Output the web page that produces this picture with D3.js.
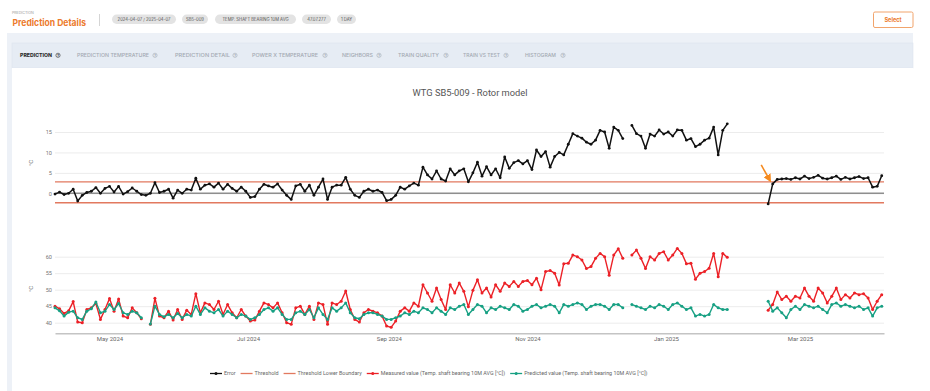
<!DOCTYPE html>
<html>
<head>
<meta charset="utf-8">
<script src="https://cdn.jsdelivr.net/npm/d3@7"></script>
<style>
  html, body { margin: 0; padding: 0; background: #fff; }
  svg { display: block; font-family: Roboto, "Open Sans", sans-serif; }
</style>
</head>
<body>
<script>
// --- data (one point every 2 days from startDate, null = no data) ---
const startDate = new Date(2024, 3, 7);
const endDate = new Date(2025, 3, 7);
const stepDays = 2;

const errorValues = [
  -0.2,0.3,-0.3,0.0,1.0,-1.9,-0.5,0.2,0.5,1.4,
  0.0,1.2,1.7,0.3,1.7,-0.2,0.4,1.3,0.5,-0.3,
  -0.5,0.0,2.6,0.2,0.5,1.0,-1.2,0.8,0.0,1.0,
  0.8,3.7,1.0,2.0,2.3,1.5,2.5,1.0,2.2,1.2,
  0.5,1.5,0.5,-1.0,-0.8,1.0,2.2,1.8,1.5,2.3,
  0.8,-0.5,-1.5,1.8,2.2,0.5,2.0,-0.5,1.5,3.5,
  -1.5,1.5,2.0,2.0,3.9,1.0,-0.5,-1.0,0.5,1.0,
  0.5,0.8,0.2,-1.8,-1.5,-0.5,1.5,1.0,1.8,2.5,
  2.0,6.4,4.5,3.5,5.5,3.5,3.0,6.0,4.5,5.5,
  6.0,2.8,5.0,7.6,4.2,6.5,4.5,6.0,3.8,8.9,
  6.1,7.5,8.0,7.2,8.0,5.8,10.6,9.0,10.2,6.4,
  9.0,10.0,9.4,12.0,14.6,14.0,13.5,12.5,12.0,13.0,
  15.4,15.0,11.0,16.2,15.4,13.4,null,16.6,14.6,14.0,
  11.0,14.5,14.0,15.5,14.5,15.0,14.0,15.5,15.4,13.0,
  13.4,11.4,12.0,13.0,13.5,16.2,9.4,15.4,17.0,null,
  null,null,null,null,null,null,null,-2.6,2.3,3.4,
  3.5,3.6,3.4,3.8,3.5,4.2,3.6,3.9,4.4,3.7,
  3.5,3.8,4.2,3.4,3.9,3.5,3.8,4.1,3.6,3.8,
  1.5,1.7,4.3
];

const measuredValues = [
  45.0,44.2,42.8,43.6,46.4,40.2,40.0,44.0,44.5,45.8,
  41.0,44.0,47.3,43.5,47.2,42.0,41.5,44.5,43.0,41.2,
  null,39.5,47.4,42.0,41.5,43.5,40.8,44.0,41.0,43.8,
  42.5,48.8,43.0,46.0,45.5,44.0,46.5,42.5,45.5,43.0,
  41.5,44.0,42.0,40.5,40.8,43.5,46.0,45.5,44.5,46.0,
  43.0,40.0,39.5,44.5,45.0,42.5,45.0,41.0,46.0,45.5,
  39.5,46.0,45.5,46.5,49.6,44.0,41.0,40.2,43.0,44.0,
  43.5,43.0,42.0,39.0,38.6,40.5,43.5,44.5,43.5,46.0,
  45.0,51.5,49.0,46.5,50.5,47.0,44.0,51.5,49.0,52.0,
  49.5,44.8,49.8,53.0,49.0,50.5,47.8,51.5,49.5,52.0,
  51.0,52.5,51.0,52.5,52.8,51.5,53.5,50.0,55.5,55.8,
  55.0,51.4,57.9,58.0,60.5,60.0,59.0,56.4,57.0,59.5,
  61.0,60.0,54.4,60.5,62.4,59.5,null,60.5,62.0,59.5,
  56.4,60.0,59.0,61.0,61.5,59.0,60.5,62.5,61.0,57.9,
  58.0,53.2,55.0,55.5,56.5,61.0,53.9,61.0,59.8,null,
  null,null,null,null,null,null,null,43.8,45.5,49.3,
  47.0,48.0,46.5,48.0,47.5,50.5,48.0,46.5,50.5,49.0,
  46.0,48.0,50.5,47.0,48.5,47.5,49.0,48.5,48.8,47.5,
  44.0,46.5,48.5
];

const predictedValues = [
  44.5,43.6,42.0,43.2,43.5,41.5,41.0,43.5,44.2,46.3,
  43.0,43.5,45.5,44.0,45.8,43.0,42.5,43.5,43.0,41.5,
  null,39.6,45.0,42.5,41.8,42.5,41.5,42.8,41.5,42.5,
  42.0,45.0,42.5,44.5,43.5,43.0,44.0,42.0,43.5,42.5,
  41.5,42.5,42.0,41.0,41.5,42.5,44.0,44.5,43.5,44.5,
  42.5,41.0,41.0,43.0,43.5,42.5,44.0,41.5,44.5,42.5,
  41.0,44.5,43.5,44.5,46.0,43.0,41.5,41.2,42.5,43.0,
  43.0,42.5,42.0,41.0,41.0,41.5,42.0,43.0,42.5,43.5,
  43.0,44.5,44.0,43.0,44.5,43.5,42.5,44.5,44.0,45.0,
  45.5,42.5,44.0,45.5,45.0,43.0,44.5,44.0,45.0,44.5,
  44.0,45.5,45.0,43.5,44.0,45.0,45.5,44.5,45.0,45.5,
  45.0,43.0,45.5,45.0,45.5,46.0,45.5,44.0,45.0,45.5,
  45.5,45.0,44.0,45.5,45.5,44.5,null,45.5,45.0,44.5,
  44.0,45.0,44.5,45.5,45.0,44.0,45.5,46.0,45.0,44.0,
  44.5,42.0,42.5,42.0,42.5,45.5,44.5,44.0,44.0,null,
  null,null,null,null,null,null,null,46.5,43.5,44.5,
  43.0,41.5,44.0,45.0,44.0,45.5,45.0,44.5,45.0,44.0,
  43.0,45.5,46.0,45.0,45.5,45.0,44.5,45.0,44.0,44.5,
  42.0,44.5,45.0
];

const thresholdValue = 2.8;
const thresholdLowerValue = -2.3;
const errorTicks = [0, 5, 10, 15];
const tempTicks = [40, 45, 50, 55, 60];
const monthTicks = ["2024-05-01", "2024-07-01", "2024-09-01", "2024-11-01", "2025-01-01", "2025-03-01"];
const arrowIndex = 158;

const pillLabels = ["2024-04-07 / 2025-04-07", "SB5-009", "TEMP. SHAFT BEARING 10M AVG", "47.07.277", "1 DAY"];
const tabLabels = ["PREDICTION", "PREDICTION TEMPERATURE", "PREDICTION DETAIL", "POWER X TEMPERATURE",
                   "NEIGHBORS", "TRAIN QUALITY", "TRAIN VS TEST", "HISTOGRAM"];
const legendLabels = ["Error", "Threshold", "Threshold Lower Boundary",
  "Measured value (Temp. shaft bearing 10M AVG [°C])",
  "Predicted value (Temp. shaft bearing 10M AVG [°C])"];

const orange = "#ec7a2c";
const thrColor = "#e2795f";
const redColor = "#ec2127";
const greenColor = "#17a083";

const toPoints = vals => vals.map((v, i) => ({ date: d3.timeDay.offset(startDate, i * stepDays), v: v }));

const svg = d3.select("body").append("svg")
  .attr("width", 930)
  .attr("height", 391);

// --- page chrome ---
svg.append("text").attr("x", 12).attr("y", 14).attr("font-size", 3.6).attr("fill", "#999")
  .attr("font-family", "Inter, sans-serif").text("PREDICTION");
svg.append("text").attr("x", 12.5).attr("y", 25.5).attr("font-size", 9.4).attr("font-weight", 700)
  .attr("fill", orange).attr("font-family", "Inter, sans-serif")
  .attr("textLength", 73.5).attr("lengthAdjust", "spacingAndGlyphs").text("Prediction Details");
svg.append("line").attr("x1", 99.5).attr("x2", 99.5).attr("y1", 14).attr("y2", 26).attr("stroke", "#d5d5d5");

const pillX = [[112, 176], [182, 208], [215, 296], [302, 331], [337, 356]];
pillLabels.forEach((t, i) => {
  const [a, b] = pillX[i];
  svg.append("rect").attr("x", a).attr("y", 14.5).attr("width", b - a).attr("height", 9.5)
    .attr("rx", 4.7).attr("fill", "#e3e3e3");
  svg.append("text").attr("x", (a + b) / 2).attr("y", 20.8).attr("text-anchor", "middle")
    .attr("font-size", 4.2).attr("fill", "#555").attr("font-family", "Inter, sans-serif").text(t);
});

svg.append("rect").attr("x", 873.5).attr("y", 12).attr("width", 39.5).attr("height", 15.5)
  .attr("rx", 1.5).attr("fill", "#fff").attr("stroke", "#f1a46c").attr("stroke-width", 1);
svg.append("text").attr("x", 893).attr("y", 22).attr("text-anchor", "middle")
  .attr("font-size", 5.6).attr("font-weight", 700).attr("fill", orange)
  .attr("font-family", "Inter, sans-serif").text("Select");

svg.append("rect").attr("x", 7).attr("y", 33).attr("width", 906).attr("height", 358).attr("fill", "#edf1f7");
svg.append("rect").attr("x", 12).attr("y", 43).attr("width", 901).attr("height", 25)
  .attr("fill", "#e6ecf4").attr("stroke", "#dde4ee").attr("stroke-width", 0.6);
svg.append("rect").attr("x", 12).attr("y", 68).attr("width", 901).attr("height", 323).attr("fill", "#fff");

const tabX = [[20, 52, 58], [77, 149, 155], [175, 230, 235], [252, 318, 325],
              [342, 373, 379], [398, 439, 446], [463, 500, 506], [525, 556, 563]];
tabLabels.forEach((t, i) => {
  const [a, b, c] = tabX[i];
  const col = i === 0 ? "#2c2c2c" : "#a3a9b2";
  svg.append("text").attr("x", a).attr("y", 57).attr("font-size", 5)
    .attr("font-weight", i === 0 ? 800 : 500).attr("fill", col)
    .attr("font-family", "Inter, sans-serif")
    .attr("textLength", b - a).attr("lengthAdjust", "spacingAndGlyphs").text(t);
  svg.append("circle").attr("cx", c).attr("cy", 55.3).attr("r", 2.1)
    .attr("fill", "none").attr("stroke", col).attr("stroke-width", 0.6);
  svg.append("text").attr("x", c).attr("y", 56.6).attr("text-anchor", "middle")
    .attr("font-size", 3.4).attr("font-weight", 700).attr("fill", col).text("?");
});

// --- chart ---
svg.append("text").attr("x", 470).attr("y", 96).attr("text-anchor", "middle")
  .attr("font-size", 9.3).attr("font-weight", 400).attr("fill", "#555")
  .text("WTG SB5-009 - Rotor model");

const x = d3.scaleTime().domain([startDate, endDate]).range([55, 884]);
const yTop = d3.scaleLinear().domain([0, 15]).range([193.3, 132]);
const yBot = d3.scaleLinear().domain([40, 60]).range([322.7, 256.7]);

function gridAxis(scale, ticks) {
  const g = svg.append("g").attr("transform", "translate(55,0)")
    .call(d3.axisLeft(scale).tickValues(ticks).tickSize(-829).tickPadding(3));
  g.select(".domain").remove();
  g.selectAll(".tick line").attr("stroke", "#ececec").attr("stroke-width", 1);
  g.selectAll(".tick text").attr("fill", "#777").attr("font-size", 5.6).attr("font-family", "Roboto, sans-serif");
  return g;
}
gridAxis(yTop, errorTicks);
gridAxis(yBot, tempTicks);

[163, 289].forEach(cy => {
  svg.append("text").attr("transform", `translate(33,${cy}) rotate(-90)`)
    .attr("text-anchor", "middle").attr("font-size", 6).attr("fill", "#777").text("°C");
});

// zero line and thresholds
const hline = (val, color, w) => svg.append("line")
  .attr("x1", x.range()[0]).attr("x2", x.range()[1])
  .attr("y1", yTop(val)).attr("y2", yTop(val))
  .attr("stroke", color).attr("stroke-width", w);
hline(0, "#8e8e8e", 1.6);
hline(thresholdValue, thrColor, 1.4);
hline(thresholdLowerValue, thrColor, 1.4);

function drawSeries(vals, yScale, color, width, r) {
  const pts = toPoints(vals);
  const line = d3.line().defined(d => d.v != null).x(d => x(d.date)).y(d => yScale(d.v));
  svg.append("path").datum(pts).attr("fill", "none").attr("stroke", color)
    .attr("stroke-width", width).attr("stroke-linejoin", "round").attr("d", line);
  svg.append("g").selectAll("circle").data(pts.filter(d => d.v != null)).join("circle")
    .attr("cx", d => x(d.date)).attr("cy", d => yScale(d.v)).attr("r", r).attr("fill", color);
}
drawSeries(errorValues, yTop, "#111", 1.5, 1.4);
drawSeries(measuredValues, yBot, redColor, 1.4, 1.5);
drawSeries(predictedValues, yBot, greenColor, 1.4, 1.5);

// bottom x axis
const xAxis = svg.append("g").attr("transform", "translate(0,333.3)")
  .call(d3.axisBottom(x).tickValues(monthTicks.map(d => d3.timeParse("%Y-%m-%d")(d)))
    .tickFormat(d3.timeFormat("%b %Y")).tickSize(0).tickPadding(3.5));
xAxis.select(".domain").attr("stroke", "#c4c4c4").attr("stroke-width", 1.6);
xAxis.selectAll(".tick text").attr("fill", "#666").attr("font-size", 6).attr("font-family", "Roboto, sans-serif");

// annotation arrow
const ap = toPoints(errorValues)[arrowIndex];
const tipX = x(ap.date) - 2.5, tipY = yTop(ap.v) - 3;
svg.append("defs").append("marker").attr("id", "ah").attr("viewBox", "0 0 10 10")
  .attr("refX", 8).attr("refY", 5).attr("markerWidth", 5).attr("markerHeight", 5)
  .attr("orient", "auto").append("path").attr("d", "M0,0L10,5L0,10z").attr("fill", "#f58a1f");
svg.append("line").attr("x1", tipX - 9).attr("y1", tipY - 16).attr("x2", tipX).attr("y2", tipY)
  .attr("stroke", "#f58a1f").attr("stroke-width", 1.6).attr("marker-end", "url(#ah)");

// legend
const legendColors = ["#111", thrColor, thrColor, redColor, greenColor];
const legendDots = [true, false, false, true, true];
let lx = 210;
const ly = 373.5;
legendLabels.forEach((t, i) => {
  svg.append("line").attr("x1", lx).attr("x2", lx + 12).attr("y1", ly).attr("y2", ly)
    .attr("stroke", legendColors[i]).attr("stroke-width", 1.3);
  if (legendDots[i]) svg.append("circle").attr("cx", lx + 6).attr("cy", ly).attr("r", 1.5).attr("fill", legendColors[i]);
  const tx = svg.append("text").attr("x", lx + 14).attr("y", ly + 1.9).attr("font-size", 5.4)
    .attr("fill", "#666").text(t);
  lx += 14 + tx.node().getComputedTextLength() + 5;
});
</script>
</body>
</html>
